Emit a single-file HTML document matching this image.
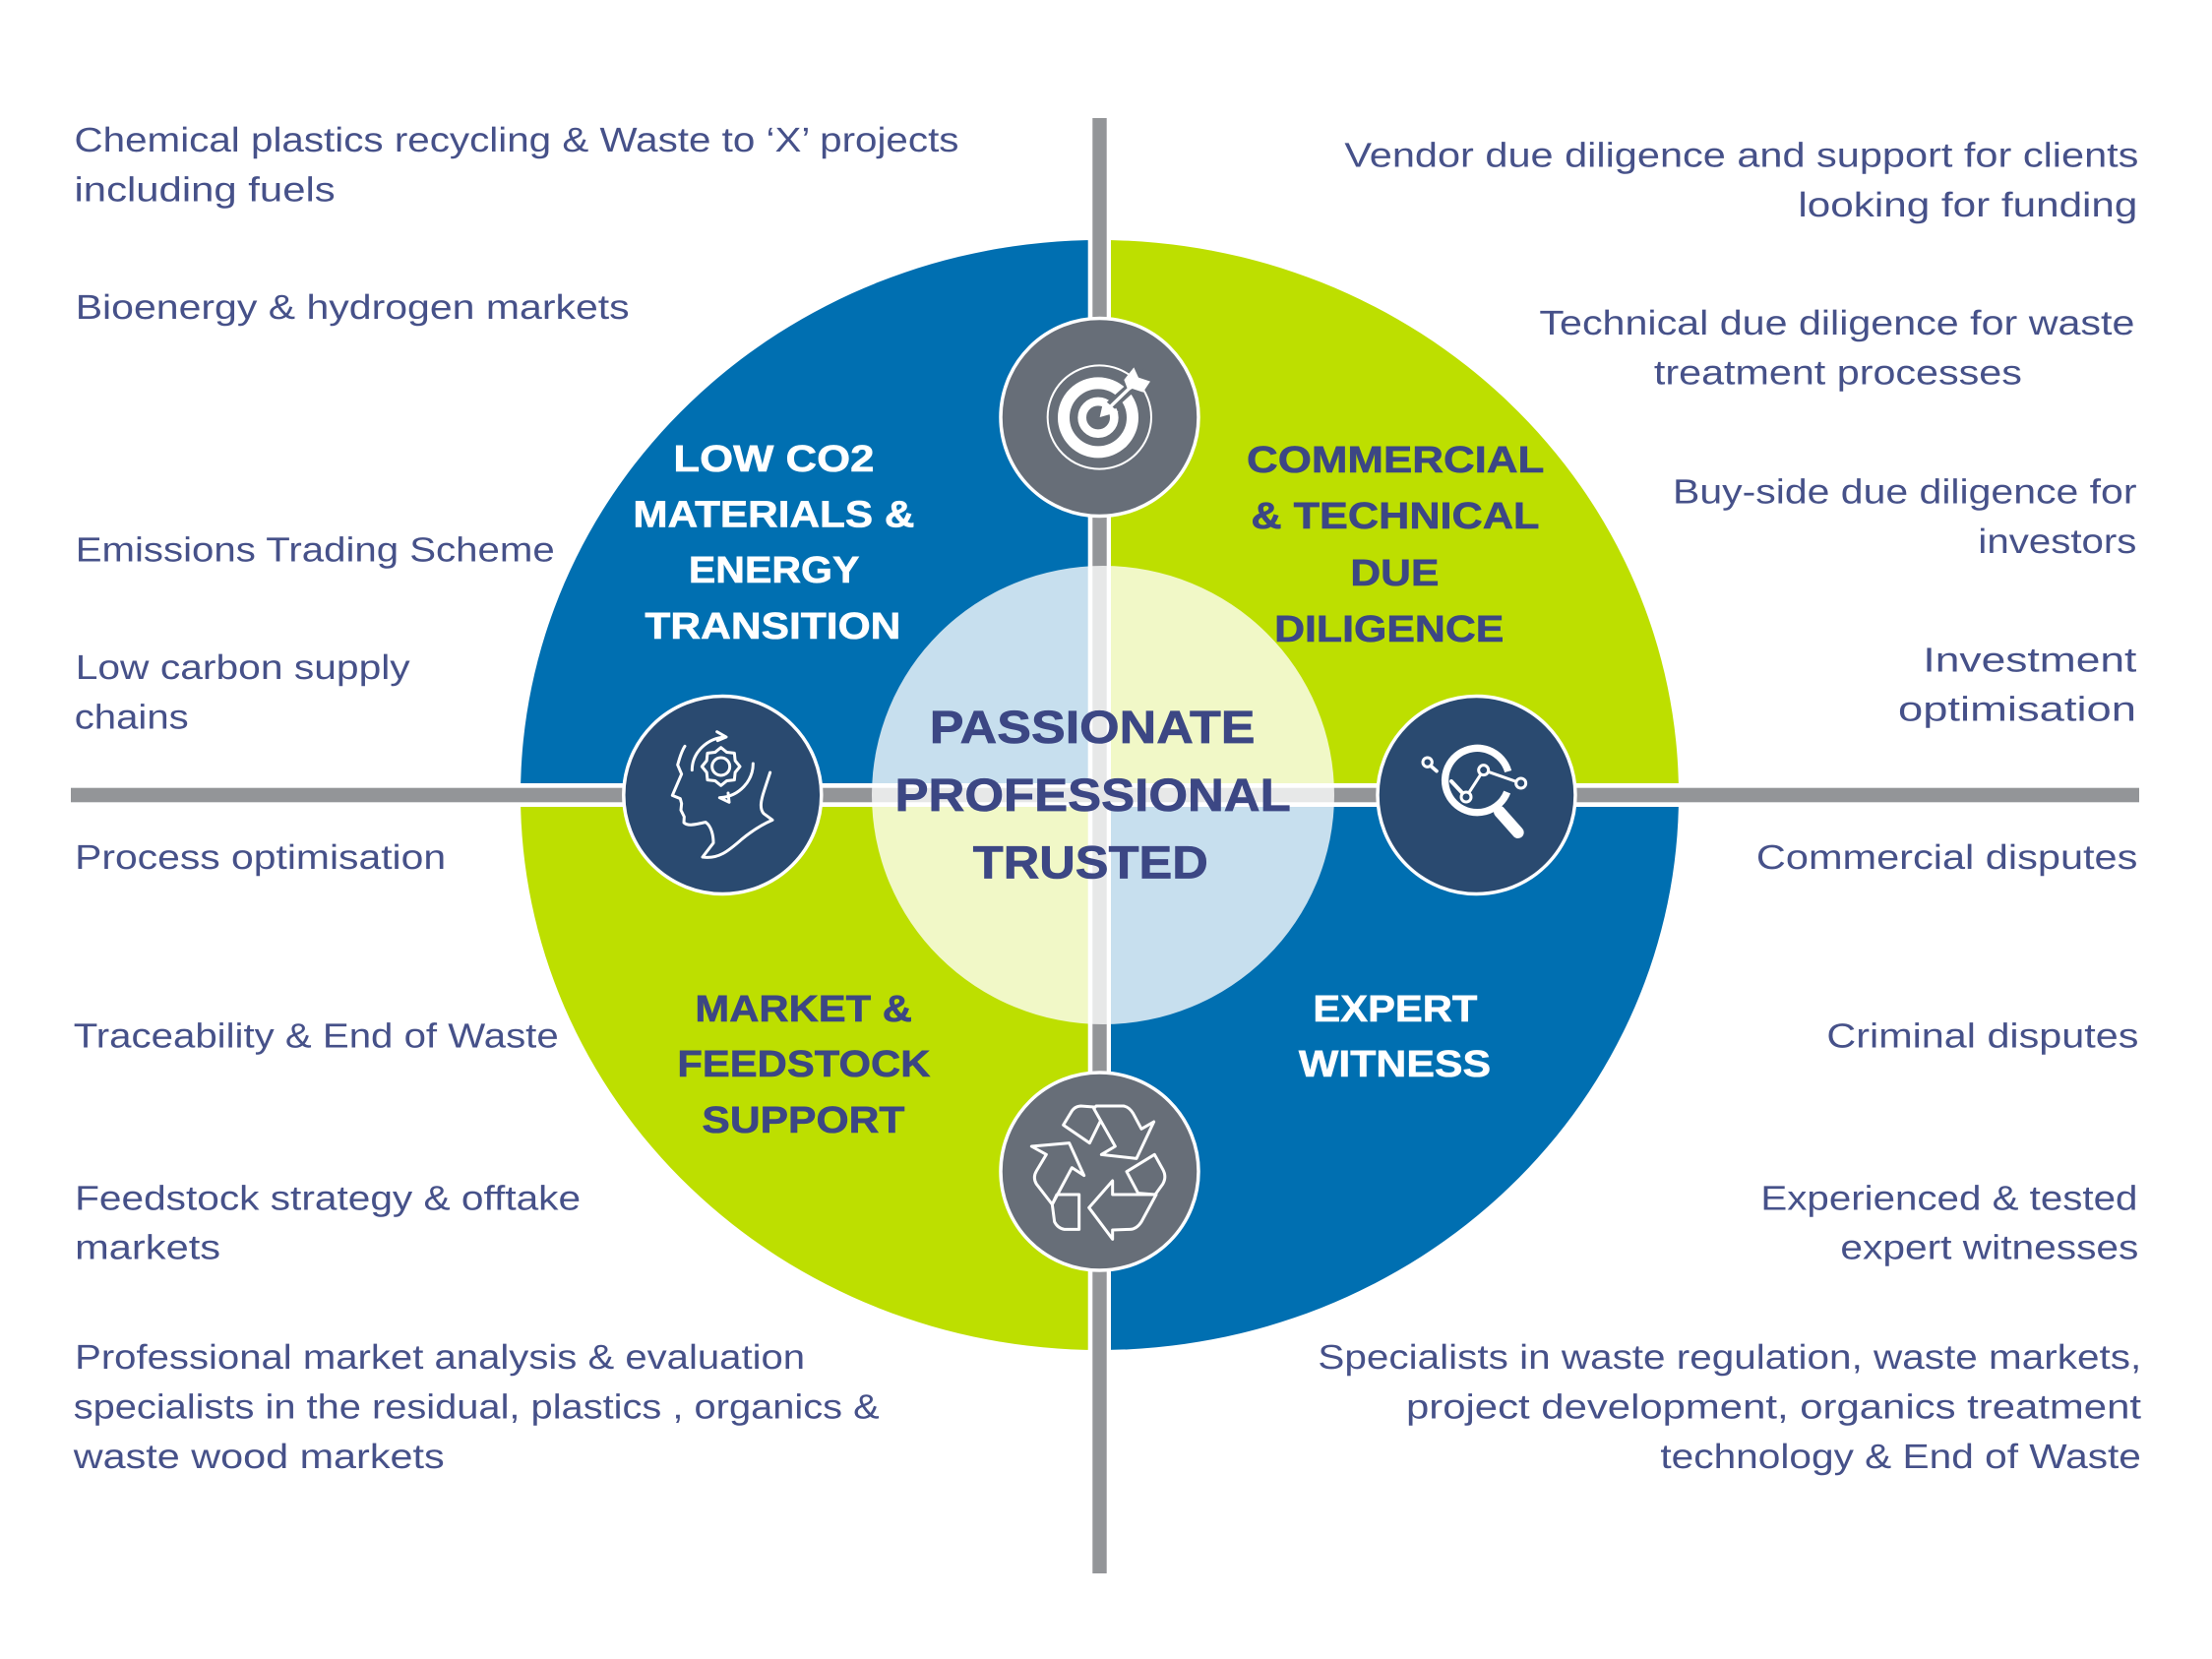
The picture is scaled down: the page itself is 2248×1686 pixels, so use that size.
<!DOCTYPE html>
<html><head><meta charset="utf-8"><title>Passionate Professional Trusted</title>
<style>
html,body{margin:0;padding:0;background:#fff;width:2248px;height:1686px;overflow:hidden}
svg{display:block}
text{font-family:"Liberation Sans",sans-serif;text-rendering:geometricPrecision}
.b{font-size:35px;fill:#465189}
.t{font-size:38px;font-weight:bold}
.t .d{stroke:#3c4784;stroke-width:.6}
.t .w{stroke:#fff;stroke-width:.6}
.c{font-size:47px;font-weight:bold;fill:#3c4784;stroke:#3c4784;stroke-width:.7}
.d{fill:#3c4784}.w{fill:#fff}
.i{fill:none;stroke:#fff;stroke-linecap:round;stroke-linejoin:round}
</style></head><body>
<svg width="2248" height="1686" viewBox="0 0 2248 1686" xmlns="http://www.w3.org/2000/svg">
<rect width="2248" height="1686" fill="#fff"/>
<!-- quadrants -->
<path d="M1117.5,808 V244 A588.5,564 0 0 0 529,808 Z" fill="#006fb1"/>
<path d="M1117.5,808 V244 A588.5,564 0 0 1 1706,808 Z" fill="#bddf00"/>
<path d="M1117.5,808 V1372 A588.5,564 0 0 1 529,808 Z" fill="#bddf00"/>
<path d="M1117.5,808 V1372 A588.5,564 0 0 0 1706,808 Z" fill="#006fb1"/>
<!-- white gaps -->
<rect x="1105.7" y="240" width="23.3" height="1136" fill="#fff"/>
<rect x="525" y="796" width="1185" height="24" fill="#fff"/>
<!-- grey bars -->
<rect x="1110.3" y="120" width="14.4" height="1479" fill="#939598"/>
<rect x="72" y="800.7" width="2102" height="14.6" fill="#939598"/>
<!-- centre -->
<ellipse cx="1121" cy="808" rx="235" ry="233" fill="#fff" fill-opacity=".78"/>

<!-- node circles -->
<circle cx="1117.5" cy="424" r="100.5" fill="#676e78" stroke="#fff" stroke-width="3.5"/>
<circle cx="1117.5" cy="1190.5" r="100.5" fill="#676e78" stroke="#fff" stroke-width="3.5"/>
<circle cx="734.3" cy="808" r="100.5" fill="#2a4a70" stroke="#fff" stroke-width="3.5"/>
<circle cx="1500.5" cy="808" r="100.5" fill="#2a4a70" stroke="#fff" stroke-width="3.5"/>

<!-- target icon -->
<g transform="translate(980,300) scale(.33333)">
<circle cx="412" cy="372" r="158" fill="none" stroke="#fff" stroke-width="6"/>
<circle cx="408" cy="373" r="105" fill="none" stroke="#fff" stroke-width="36"/>
<circle cx="408" cy="373" r="49" fill="none" stroke="#fff" stroke-width="26"/>
<path d="M415,365 L560,235" stroke="#676e78" stroke-width="32" fill="none"/>
<path d="M440,345 L505,282" stroke="#fff" stroke-width="10" fill="none"/>
<path d="M425,318 L470,356 L413,372 Z" fill="#fff"/>
<path d="M487,258 L517,220 L531,251 L567,263 L545,296 L512,285 L500,292 Z" fill="#fff"/>
</g>

<!-- head icon -->
<g transform="translate(610,690) scale(.33333)" class="i" stroke-width="9" style="fill:none">
<path d="M258,205 C245,225 240,250 236,262 L248,290 L220,355 L244,365 L248,380 L246,400 L256,420 L255,438 C270,452 300,440 322,437 C340,450 345,480 345,500 L312,543 C360,550 390,525 430,490 C460,465 490,445 525,430 L498,410 C485,395 490,370 500,340 L518,285"/>
<circle cx="368" cy="267" r="27"/>
<path d="M426,267 L411.4,285 L409,308 L386,310.4 L368,325 L350,310.4 L327,308 L324.6,285 L310,267 L324.6,249 L327,226 L350,223.6 L368,209 L386,223.6 L409,226 L411.4,249 Z"/>
<path d="M280,278 C280,225 325,180 382,177 M356,161 L384,177 L358,188"/>
<path d="M466,258 C466,310 425,358 366,362 M364,362 L393,376 L390,348"/>
</g>

<!-- magnifier icon -->
<g transform="translate(1380,690) scale(.33333)" style="fill:none">
<path d="M458,282 A98,98 0 1 0 455,345" class="i" style="stroke-linecap:butt" stroke-width="22"/>
<path d="M432,405 L488,468" class="i" stroke-width="36"/>
<path d="M285,312 L330,360" class="i" stroke-width="12"/>
<path d="M330,360 L383,278 L497,318" class="i" stroke-width="9"/>
<path d="M222,265 L240,281" class="i" stroke-width="11"/>
<g fill="#2a4a70" stroke="#fff" stroke-width="9">
<circle cx="212" cy="254" r="14" fill="#2a4a70"/>
<circle cx="330" cy="360" r="15" fill="#2a4a70"/>
<circle cx="383" cy="278" r="15" fill="#2a4a70"/>
<circle cx="497" cy="318" r="15" fill="#2a4a70"/>
</g>
</g>

<!-- recycle icon -->
<g transform="translate(990,1070) scale(.33333)" class="i" stroke-width="9" style="fill:none">
<path d="M385,208 L352,275 L272,220 L295,182 Q305,163 325,162 L365,165"/>
<path d="M365,170 L372,162 L455,162 Q472,164 485,185 L510,232 L548,210 L495,322 L388,310 L430,285 Z"/>
<path d="M175,285 L290,275 L335,374 L298,350 L238,462 L190,400 Q178,380 190,360 L220,310 Z"/>
<path d="M238,462 L252,432 L320,432 L320,538 L275,538 Q255,535 245,515 L238,462"/>
<path d="M465,362 L550,310 L575,355 Q588,378 575,400 L552,432 L500,428 Z"/>
<path d="M350,472 L422,390 L422,432 L555,432 L510,515 Q495,538 475,538 L422,540 L422,568 Z"/>
</g>

<!-- quadrant titles -->
<g class="t" transform="translate(-.6,-.8)">
<text class="w" x="685" y="480" textLength="204" lengthAdjust="spacingAndGlyphs">LOW CO2</text>
<text class="w" x="644" y="536.5" textLength="286" lengthAdjust="spacingAndGlyphs">MATERIALS &amp;</text>
<text class="w" x="700.5" y="593" textLength="173.5" lengthAdjust="spacingAndGlyphs">ENERGY</text>
<text class="w" x="656" y="650" textLength="260" lengthAdjust="spacingAndGlyphs">TRANSITION</text>
<text class="d" x="1267.6" y="481" textLength="302.4" lengthAdjust="spacingAndGlyphs">COMMERCIAL</text>
<text class="d" x="1272" y="537.7" textLength="293" lengthAdjust="spacingAndGlyphs">&amp; TECHNICAL</text>
<text class="d" x="1373" y="595.8" textLength="90" lengthAdjust="spacingAndGlyphs">DUE</text>
<text class="d" x="1295.7" y="652.6" textLength="233.3" lengthAdjust="spacingAndGlyphs">DILIGENCE</text>
<text class="d" x="707" y="1038.7" textLength="220.6" lengthAdjust="spacingAndGlyphs">MARKET &amp;</text>
<text class="d" x="689" y="1095" textLength="257" lengthAdjust="spacingAndGlyphs">FEEDSTOCK</text>
<text class="d" x="714" y="1151.7" textLength="206" lengthAdjust="spacingAndGlyphs">SUPPORT</text>
<text class="w" x="1335" y="1038.7" textLength="167" lengthAdjust="spacingAndGlyphs">EXPERT</text>
<text class="w" x="1320.5" y="1095" textLength="195.2" lengthAdjust="spacingAndGlyphs">WITNESS</text>
</g>

<!-- centre text -->
<g transform="translate(-1.2,-1)">
<text class="c" x="946" y="756" textLength="330.7" lengthAdjust="spacingAndGlyphs">PASSIONATE</text>
<text class="c" x="910.7" y="825" textLength="402.3" lengthAdjust="spacingAndGlyphs">PROFESSIONAL</text>
<text class="c" x="990" y="893.3" textLength="239" lengthAdjust="spacingAndGlyphs">TRUSTED</text>
</g>

<!-- left text -->
<g class="b" transform="translate(-1.3,0)">
<text x="76.8" y="153.9" textLength="899" lengthAdjust="spacingAndGlyphs">Chemical plastics recycling &amp; Waste to ‘X’ projects</text>
<text x="76.8" y="204.4" textLength="265.2" lengthAdjust="spacingAndGlyphs">including fuels</text>
<text x="78" y="323.9" textLength="563" lengthAdjust="spacingAndGlyphs">Bioenergy &amp; hydrogen markets</text>
<text x="78" y="570.5" textLength="487" lengthAdjust="spacingAndGlyphs">Emissions Trading Scheme</text>
<text x="78" y="690" textLength="340" lengthAdjust="spacingAndGlyphs">Low carbon supply</text>
<text x="77" y="740.6" textLength="116" lengthAdjust="spacingAndGlyphs">chains</text>
<text x="77.4" y="883" textLength="377" lengthAdjust="spacingAndGlyphs">Process optimisation</text>
<text x="76" y="1064.4" textLength="493" lengthAdjust="spacingAndGlyphs">Traceability &amp; End of Waste</text>
<text x="77.4" y="1229.4" textLength="514" lengthAdjust="spacingAndGlyphs">Feedstock strategy &amp; offtake</text>
<text x="77.4" y="1279.7" textLength="148" lengthAdjust="spacingAndGlyphs">markets</text>
<text x="77.4" y="1391" textLength="742" lengthAdjust="spacingAndGlyphs">Professional market analysis &amp; evaluation</text>
<text x="76" y="1441.5" textLength="819" lengthAdjust="spacingAndGlyphs">specialists in the residual, plastics , organics &amp;</text>
<text x="76" y="1491.8" textLength="377" lengthAdjust="spacingAndGlyphs">waste wood markets</text>
</g>

<!-- right text -->
<g class="b" transform="translate(-.6,0)">
<text x="1367" y="169.4" textLength="807" lengthAdjust="spacingAndGlyphs">Vendor due diligence and support for clients</text>
<text x="1828" y="220" textLength="345" lengthAdjust="spacingAndGlyphs">looking for funding</text>
<text x="1565" y="340" textLength="605" lengthAdjust="spacingAndGlyphs">Technical due diligence for waste</text>
<text x="1681.5" y="390.4" textLength="374" lengthAdjust="spacingAndGlyphs">treatment processes</text>
<text x="1700.6" y="511.6" textLength="471.5" lengthAdjust="spacingAndGlyphs">Buy-side due diligence for</text>
<text x="2011" y="562" textLength="161" lengthAdjust="spacingAndGlyphs">investors</text>
<text x="1955" y="682.5" textLength="217" lengthAdjust="spacingAndGlyphs">Investment</text>
<text x="1929.6" y="732.6" textLength="242" lengthAdjust="spacingAndGlyphs">optimisation</text>
<text x="1785.5" y="883" textLength="387.5" lengthAdjust="spacingAndGlyphs">Commercial disputes</text>
<text x="1857" y="1064.4" textLength="317" lengthAdjust="spacingAndGlyphs">Criminal disputes</text>
<text x="1790" y="1229.4" textLength="383" lengthAdjust="spacingAndGlyphs">Experienced &amp; tested</text>
<text x="1871" y="1279.7" textLength="303" lengthAdjust="spacingAndGlyphs">expert witnesses</text>
<text x="1340" y="1391" textLength="836.8" lengthAdjust="spacingAndGlyphs">Specialists in waste regulation, waste markets,</text>
<text x="1429.6" y="1441.5" textLength="747" lengthAdjust="spacingAndGlyphs">project development, organics treatment</text>
<text x="1688" y="1491.8" textLength="488.5" lengthAdjust="spacingAndGlyphs">technology &amp; End of Waste</text>
</g>
</svg>
</body></html>
